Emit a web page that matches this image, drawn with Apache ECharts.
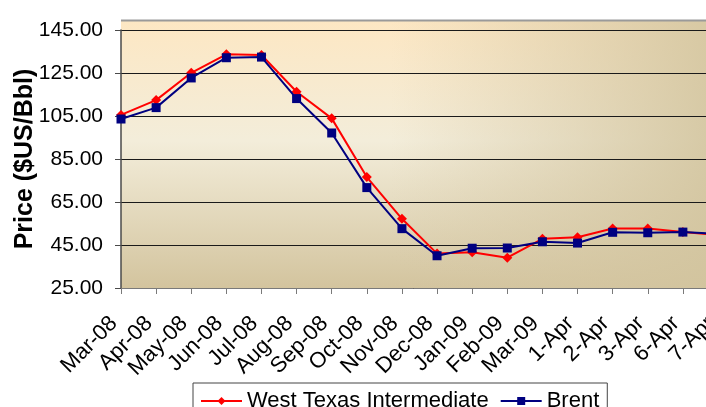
<!DOCTYPE html>
<html>
<head>
<meta charset="utf-8">
<script src="https://cdn.jsdelivr.net/npm/echarts@6/dist/echarts.min.js"></script>
<style>
    html, body { margin: 0; padding: 0; background: #fff; }
    #chart { width: 706px; height: 407px; }
</style>
</head>
<body>
<div id="chart"></div>
<script>
// Categories (x axis)
const categories = ['Mar-08', 'Apr-08', 'May-08', 'Jun-08', 'Jul-08', 'Aug-08', 'Sep-08',
    'Oct-08', 'Nov-08', 'Dec-08', 'Jan-09', 'Feb-09', 'Mar-09',
    '1-Apr', '2-Apr', '3-Apr', '6-Apr', '7-Apr'];

// Prices ($US/Bbl)
const wtiPrices = [105.5, 112.4, 125.1, 133.7, 133.4, 116.3, 103.9, 76.6, 57.2, 41.0,
    41.6, 39.1, 47.9, 48.6, 52.7, 52.7, 51.0, 49.7];
const brentPrices = [103.6, 108.9, 122.7, 132.1, 132.4, 113.1, 97.1, 71.7, 52.6, 40.0,
    43.5, 43.6, 46.5, 45.9, 50.9, 50.7, 51.0, 50.2];

const seriesNames = ['West Texas Intermediate', 'Brent'];

const FONT = '"Liberation Sans", Arial, sans-serif';

const chart = echarts.init(document.getElementById('chart'), null, { renderer: 'canvas' });

chart.setOption({
    animation: false,
    backgroundColor: '#ffffff',
    textStyle: { fontFamily: FONT, color: '#000' },
    graphic: [
        // Plot background (vertical gradient)
        {
            type: 'rect',
            z: -10,
            shape: { x: 121, y: 20, width: 600, height: 268 },
            style: {
                fill: new echarts.graphic.LinearGradient(0, 0, 0, 1, [
                    { offset: 0, color: '#fde7c3' },
                    { offset: 0.45, color: '#f3edda' },
                    { offset: 1, color: '#d3c49e' }
                ])
            },
            silent: true
        },
        // Darkening toward the right
        {
            type: 'rect',
            z: -9,
            shape: { x: 121, y: 20, width: 600, height: 268 },
            style: {
                fill: new echarts.graphic.LinearGradient(0, 0, 1, 0, [
                    { offset: 0, color: 'rgba(214,200,165,0)' },
                    { offset: 0.45, color: 'rgba(214,200,165,0)' },
                    { offset: 1, color: 'rgba(210,196,158,0.9)' }
                ])
            },
            silent: true
        },
        // Top border of plot area
        {
            type: 'line',
            z: -8,
            shape: { x1: 121, y1: 20.5, x2: 706, y2: 20.5 },
            style: { stroke: '#9a9a9a', lineWidth: 2 },
            silent: true
        }
    ],
    grid: {
        left: 121,
        top: 30,
        width: 597,
        height: 258,
        containLabel: false,
        outerBoundsMode: 'none'
    },
    legend: {
        data: seriesNames,
        left: 193,
        top: 383,
        orient: 'horizontal',
        itemWidth: 41,
        itemHeight: 10,
        itemGap: 11,
        padding: [7, 8, 7, 7],
        borderColor: '#444',
        borderWidth: 1,
        backgroundColor: '#fff',
        textStyle: { fontFamily: FONT, fontSize: 22, color: '#000' }
    },
    xAxis: {
        type: 'category',
        data: categories,
        boundaryGap: false,
        axisLine: { lineStyle: { color: '#7a7a7a', width: 1 } },
        axisTick: { show: true, length: 6, lineStyle: { color: '#7a7a7a' } },
        axisLabel: {
            rotate: 45,
            interval: 0,
            margin: 25,
            padding: [0, 10, 0, 0],
            fontSize: 22,
            fontFamily: FONT,
            color: '#000',
            hideOverlap: false
        },
        splitLine: { show: false }
    },
    yAxis: {
        type: 'value',
        min: 25,
        max: 145,
        interval: 20,
        name: 'Price ($US/Bbl)',
        nameLocation: 'middle',
        nameGap: 83,
        nameMoveOverlap: false,
        nameTextStyle: { fontFamily: FONT, fontSize: 25, fontWeight: 'bold', color: '#000' },
        axisLine: { show: true, lineStyle: { color: '#4a4a4a', width: 1.5 } },
        axisTick: { show: true, length: 6, lineStyle: { color: '#4a4a4a' } },
        axisLabel: {
            margin: 18,
            fontSize: 21,
            fontFamily: FONT,
            color: '#000',
            formatter: v => v.toFixed(2)
        },
        splitLine: { show: true, lineStyle: { color: '#1a1a1a', width: 1 } }
    },
    series: [
        {
            name: seriesNames[0],
            type: 'line',
            data: wtiPrices,
            symbol: 'diamond',
            symbolSize: 10,
            showAllSymbol: true,
            itemStyle: { color: '#ff0000' },
            lineStyle: { color: '#ff0000', width: 2 },
            z: 3
        },
        {
            name: seriesNames[1],
            type: 'line',
            data: brentPrices,
            symbol: 'rect',
            symbolSize: 9,
            showAllSymbol: true,
            itemStyle: { color: '#000080' },
            lineStyle: { color: '#000080', width: 2 },
            z: 4
        }
    ]
});
</script>
</body>
</html>
